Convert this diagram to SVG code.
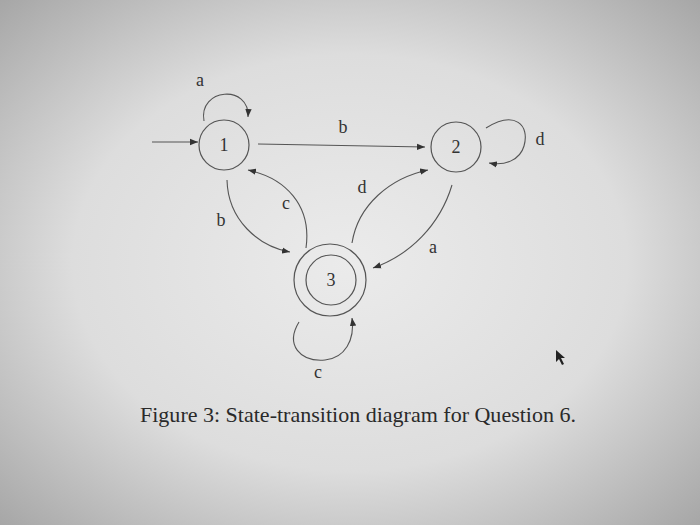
<svg xmlns="http://www.w3.org/2000/svg" width="700" height="525" viewBox="0 0 700 525">
<defs>
<radialGradient id="bg" cx="0.5" cy="0.5" r="0.72">
<stop offset="0" stop-color="#ebebeb"/>
<stop offset="0.55" stop-color="#dddddd"/>
<stop offset="1" stop-color="#a4a4a4"/>
</radialGradient>
<marker id="arr" viewBox="0 0 10 10" refX="10" refY="5" markerWidth="8" markerHeight="8" markerUnits="userSpaceOnUse" orient="auto">
<path d="M0,1 L10,5 L0,9 Z" fill="#333"/>
</marker>
<style>
.st{fill:none;stroke:#555;stroke-width:1.2}
.ed{fill:none;stroke:#555;stroke-width:1.1;marker-end:url(#arr)}
.lb{font-family:"Liberation Serif",serif;font-size:18px;fill:#333;text-anchor:middle}
.nl{font-family:"Liberation Serif",serif;font-size:18px;fill:#333;text-anchor:middle}
</style>
</defs>
<rect width="700" height="525" fill="url(#bg)"/>
<g id="connectors">
<path class="ed" d="M152,142 L198,142"/>
<path class="ed" d="M204,121 C198,88 250,84 248,117"/>
<path class="ed" d="M258,144 L425,147"/>
<path class="ed" d="M486,128 C515,110 530,125 524,146 C520,160 505,166 489,163"/>
<path class="ed" d="M227,180 C228,220 258,246 290,252"/>
<path class="ed" d="M306,248 C312,205 285,178 248,170"/>
<path class="ed" d="M352,243 C358,205 390,178 428,170"/>
<path class="ed" d="M452,185 C440,225 410,255 373,268"/>
<path class="ed" d="M299,322 C285,345 300,362 325,360 C345,358 355,340 352,318"/>
</g>
<g id="labels">
<text class="lb" x="200" y="86">a</text>
<text class="lb" x="343" y="133">b</text>
<text class="lb" x="540" y="145">d</text>
<text class="lb" x="221" y="226">b</text>
<text class="lb" x="286" y="209">c</text>
<text class="lb" x="362" y="193">d</text>
<text class="lb" x="433" y="253">a</text>
<text class="lb" x="318" y="378">c</text>
</g>
<g id="state1">
<circle class="st" cx="224" cy="145" r="25"/>
<text class="nl" x="224" y="151">1</text>
</g>
<g id="state2">
<circle class="st" cx="456" cy="147" r="25"/>
<text class="nl" x="456" y="153">2</text>
</g>
<g id="state3">
<circle class="st" cx="330" cy="280" r="36"/>
<circle class="st" cx="331" cy="280" r="25"/>
<text class="nl" x="331" y="286">3</text>
</g>
<text x="140" y="422" font-family="Liberation Serif,serif" font-size="21" fill="#2a2a2a" textLength="436" lengthAdjust="spacingAndGlyphs">Figure 3: State-transition diagram for Question 6.</text>
<path d="M556,350 L556,362 L559,359 L562,365 L564,364 L561,358 L565,358 Z" fill="#222"/>
</svg>
